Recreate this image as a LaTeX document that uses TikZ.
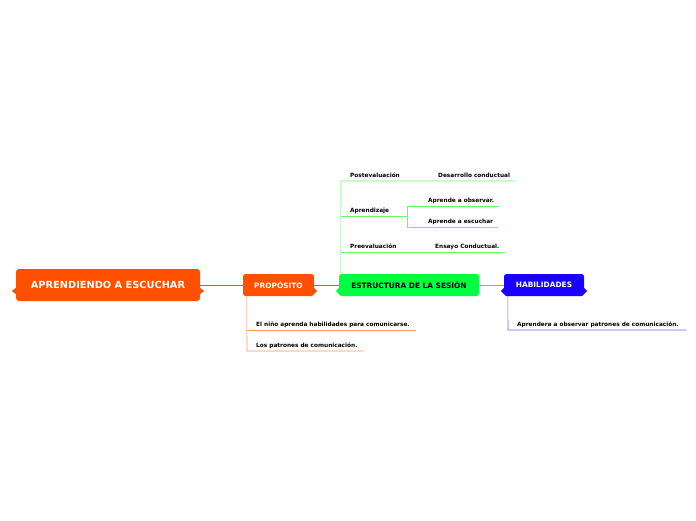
\documentclass[tikz,border=0pt]{standalone}
\usepackage{fontspec}
\setmainfont{DejaVu Sans}
\usetikzlibrary{positioning}
\definecolor{naranja}{RGB}{255,80,0}
\definecolor{verde}{RGB}{0,255,64}
\definecolor{azul}{RGB}{26,0,255}
\definecolor{gris}{RGB}{100,125,150}
\definecolor{naranjaclaro}{RGB}{255,150,100}
\definecolor{verdeclaro}{RGB}{110,245,110}
\definecolor{azulclaro}{RGB}{120,100,255}

\begin{document}
\begin{tikzpicture}[x=1pt,y=-1pt,
  every node/.style={font=\bfseries\fontsize{5.8}{7}\selectfont},
  tema/.style={rounded corners=2.5pt, minimum height=22pt, font=\bfseries\fontsize{7.4}{9}\selectfont},
  hoja/.style={anchor=base west, inner sep=0pt}]
\useasboundingbox (0,0) rectangle (696,520);
% nodos principales
\node[fill=naranja, rounded corners=3pt, minimum width=184pt, minimum height=32pt, text=white, font=\bfseries\fontsize{9.8}{12}\selectfont] (raiz) at (108,285) {APRENDIENDO A ESCUCHAR};
\node[tema, fill=naranja, text=white, minimum width=71pt] (prop) at (278.5,285) {PROPÓSITO};
\node[tema, fill=verde, text=black, minimum width=140pt] (estr) at (409,285) {ESTRUCTURA DE LA SESIÓN};
\node[tema, fill=azul, text=white, minimum width=80pt] (hab) at (544,285) {HABILIDADES};
% picos
\fill[naranja] ([yshift=-3]raiz.west) -- ++(-4,3) -- ++(4,3) -- cycle;
\fill[naranja] ([yshift=-3]raiz.east) -- ++(4,3) -- ++(-4,3) -- cycle;
\fill[naranja] ([yshift=-3]prop.east) -- ++(3,3) -- ++(-3,3) -- cycle;
\fill[verde] ([yshift=-3]estr.west) -- ++(-3,3) -- ++(3,3) -- cycle;
\fill[azul] ([yshift=-3]hab.west) -- ++(-3,3) -- ++(3,3) -- cycle;
\fill[azul] ([yshift=-3]hab.east) -- ++(3,3) -- ++(-3,3) -- cycle;
% conectores
\draw[gris, line width=0.8pt] (raiz.east) -- (prop.west);
\draw[gris, line width=0.8pt] (prop.east) -- (estr.west);
\draw[azulclaro!70, line width=0.8pt] (estr.east) -- (hab.west);

% PROPOSITO
\coordinate (p0) at ([xshift=4]prop.south west);
\coordinate (p1) at (247,330);
\coordinate (p1e) at (416,330);
\coordinate (p2) at (247,351);
\coordinate (p2e) at (364,351);
\draw[naranjaclaro, line width=0.6pt] (p0) -- (p2) -- (p2e);
\draw[naranjaclaro, line width=0.6pt] (p1) -- (p1e);
\node[hoja] (p1t) at (256,326) {El niño aprenda habilidades para comunicarse.};
\node[hoja] (p2t) at (256,347) {Los patrones de comunicación.};

% ESTRUCTURA
\coordinate (e0) at ([xshift=2]estr.north west);
\coordinate (e1) at (341,181);
\coordinate (e1e) at (515,181);
\coordinate (e2) at (341,216);
\coordinate (e2e) at (407,216);
\coordinate (e2a) at (407,206);
\coordinate (e2ae) at (499,206);
\coordinate (e2b) at (407,227);
\coordinate (e2be) at (498,227);
\coordinate (e3) at (341,252);
\coordinate (e3e) at (505,252);
\draw[verdeclaro, line width=0.6pt] (e0) -- (e1) -- (e1e);
\draw[verdeclaro, line width=0.6pt] (e2) -- (e2e);
\draw[verdeclaro, line width=0.6pt] (e2ae) -- (e2a) -- (e2b) -- (e2be);
\draw[verdeclaro, line width=0.6pt] (e3) -- (e3e);
\node[hoja] (e1t) at (350,177) {Postevaluación};
\node[hoja] (e1d) at (438,177) {Desarrollo conductual};
\node[hoja] (e2t) at (350,212.5) {Aprendizaje};
\node[hoja] (e2at) at (428,202) {Aprende a observar.};
\node[hoja] (e2bt) at (428,223) {Aprende a escuchar};
\node[hoja] (e3t) at (350,248) {Preevaluación};
\node[hoja] (e3d) at (435,248) {Ensayo Conductual.};

% HABILIDADES
\coordinate (h0) at ([xshift=4]hab.south west);
\coordinate (h1) at (508,330);
\coordinate (h1e) at (686,330);
\draw[azulclaro, line width=0.6pt] (h0) -- (h1) -- (h1e);
\node[hoja] (h1t) at (517,326) {Aprendera a observar patrones de comunicación.};
\end{tikzpicture}
\end{document}
